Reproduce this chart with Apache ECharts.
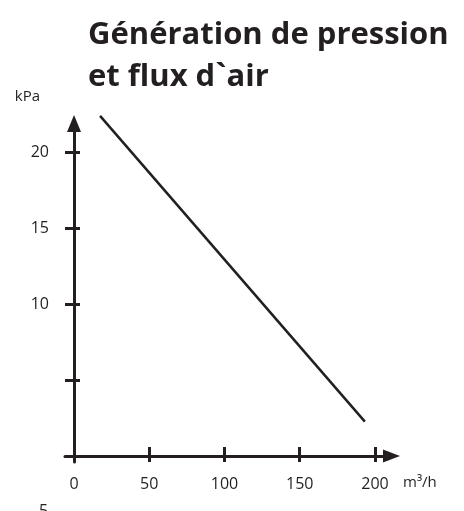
<!DOCTYPE html>
<html>
<head>
<meta charset="utf-8">
<script src="https://cdn.jsdelivr.net/npm/echarts@6/dist/echarts.min.js"></script>
<style>
    html, body { margin: 0; padding: 0; background: #fff; }
    #chart { width: 464px; height: 511px; }
</style>
</head>
<body>
<div id="chart"></div>
<script>
let chart = echarts.init(document.getElementById('chart'));

// données
let flow = [17.3, 193.3];          // m3/h
let pressure = [22.4, 2.26];       // kPa
let xTicks = [0, 50, 100, 150, 200];
let yTicks = [5, 10, 15, 20];
let yLabels = [10, 15, 20];

let ink = '#231f20';
let font = 'Open Sans';

let linePoints = flow.map((f, i) => [f, pressure[i]]);

let baseX = {
    type: 'value',
    min: -6,
    max: 211,
    position: 'bottom',
    splitLine: {show: false},
};
let baseY = {
    type: 'value',
    min: -0.4,
    max: 21.9,
    position: 'left',
    splitLine: {show: false},
};

let option = {
    animation: false,
    title: {
        text: 'Génération de pression\net flux d`air',
        left: 83,
        top: 9,
        textStyle: {
            fontFamily: font,
            fontSize: 31,
            fontWeight: 'bold',
            lineHeight: 42,
            color: ink
        }
    },
    grid: {
        left: 65,
        top: 123.5,
        right: 72.5,
        bottom: 49,
        containLabel: false
    },
    xAxis: [
        Object.assign({}, baseX, {
            name: '\nm³/h',
            nameLocation: 'end',
            nameGap: 11.5,
            nameTextStyle: {
                fontFamily: font, fontSize: 15, color: ink,
                align: 'left', verticalAlign: 'middle',
                lineHeight: 54
            },
            axisLine: {
                onZero: true,
                symbol: ['none', 'triangle'],
                symbolSize: [13, 17],
                lineStyle: {color: ink, width: 3}
            },
            axisTick: {
                customValues: xTicks,
                inside: false,
                length: 6,
                lineStyle: {color: ink, width: 3}
            },
            axisLabel: {
                customValues: xTicks,
                margin: 14,
                fontFamily: font, fontSize: 16, color: ink
            }
        }),
        Object.assign({}, baseX, {
            axisLine: {show: false, onZero: true},
            axisTick: {
                customValues: xTicks,
                inside: true,
                length: 9,
                lineStyle: {color: ink, width: 3}
            },
            axisLabel: {show: false}
        })
    ],
    yAxis: [
        Object.assign({}, baseY, {
            name: 'kPa',
            nameLocation: 'end',
            nameGap: 26.5,
            nameTextStyle: {
                fontFamily: font, fontSize: 15, color: ink,
                align: 'right', verticalAlign: 'middle',
                padding: [0, 34, 0, 0]
            },
            axisLine: {
                onZero: true,
                symbol: ['none', 'triangle'],
                symbolSize: [14, 17],
                lineStyle: {color: ink, width: 3}
            },
            axisTick: {
                customValues: yTicks,
                inside: false,
                length: 9,
                lineStyle: {color: ink, width: 3}
            },
            axisLabel: {
                customValues: yLabels,
                margin: 16,
                fontFamily: font, fontSize: 16, color: ink
            }
        }),
        Object.assign({}, baseY, {
            axisLine: {show: false, onZero: true},
            axisTick: {
                customValues: yTicks,
                inside: true,
                length: 6,
                lineStyle: {color: ink, width: 3}
            },
            axisLabel: {show: false}
        })
    ],
    graphic: [{
        // étiquette "5" déplacée en bas, comme sur l'original
        type: 'text',
        left: 39,
        top: 503,
        style: {text: '5', fontFamily: font, fontSize: 16, fill: ink}
    }],
    series: [{
        type: 'line',
        data: linePoints,
        showSymbol: false,
        clip: false,
        lineStyle: {color: ink, width: 2.5}
    }]
};

chart.setOption(option);
</script>
</body>
</html>
